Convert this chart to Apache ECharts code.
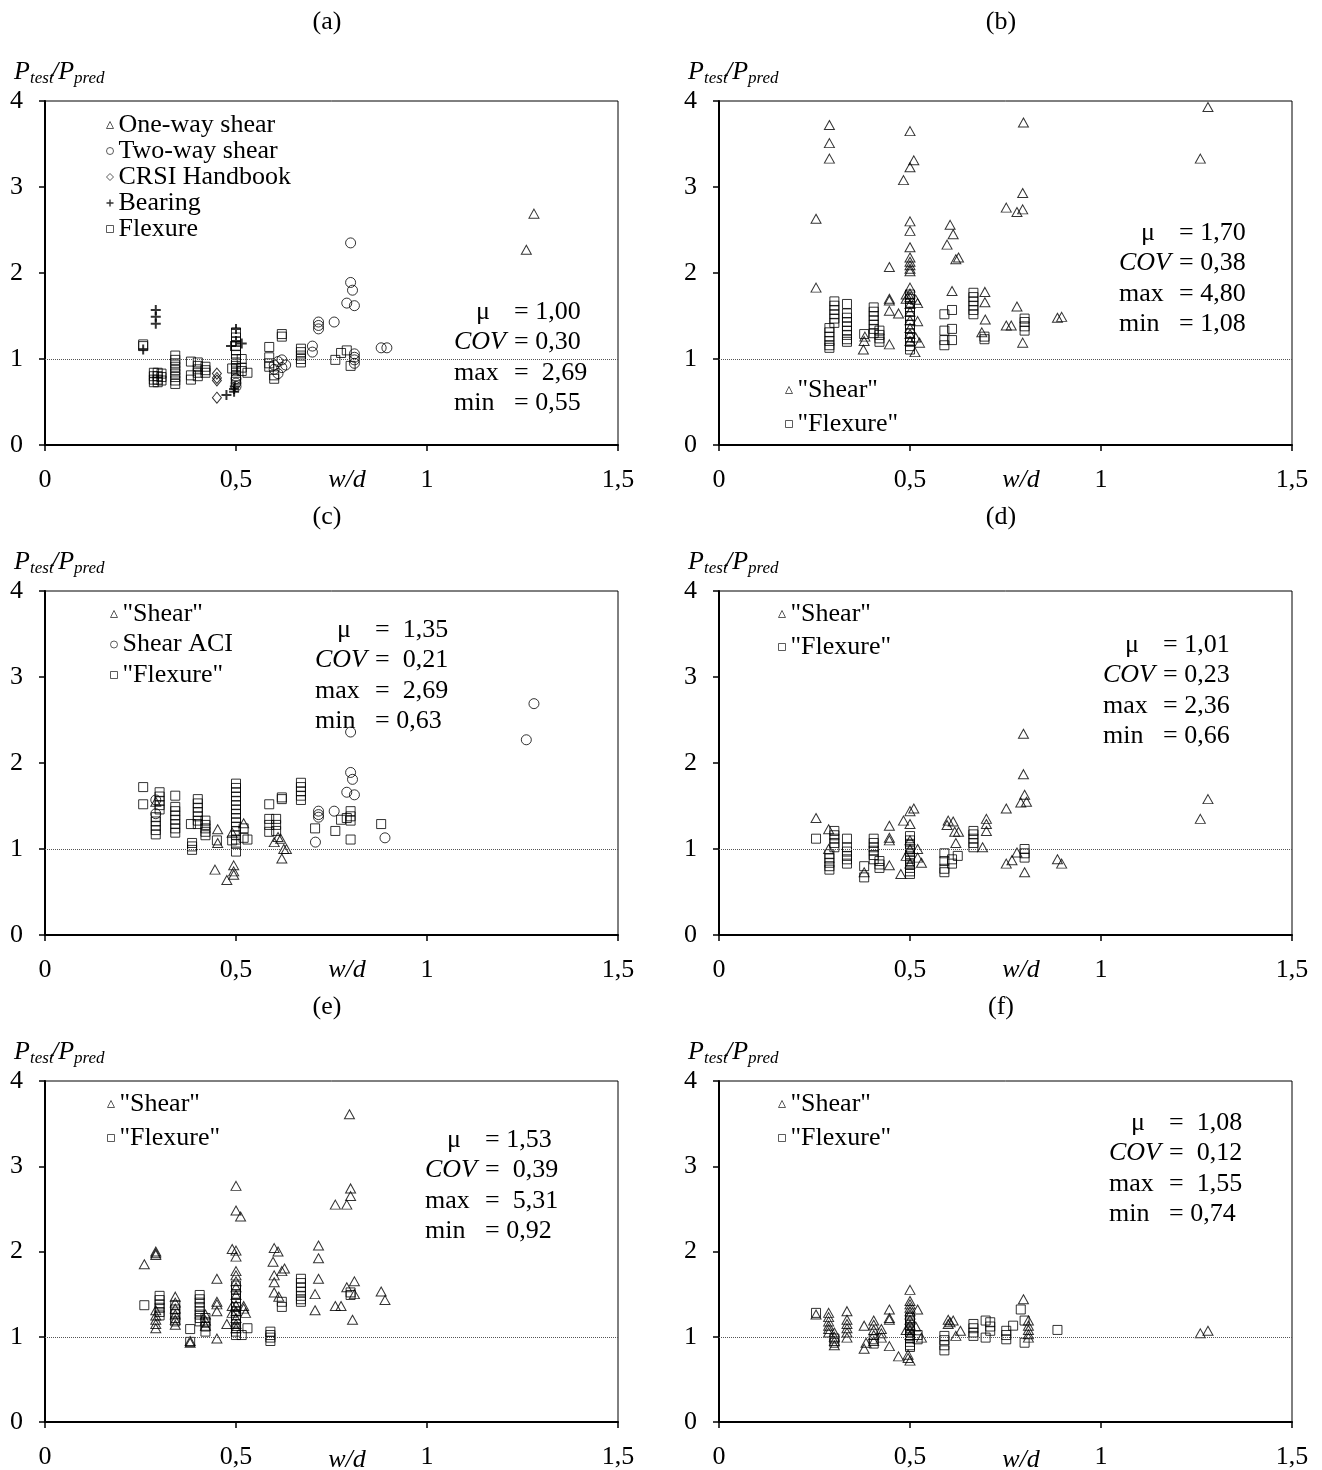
<!DOCTYPE html>
<html>
<head>
    <meta charset="utf-8">
    <title>Ptest/Ppred vs w/d</title>
    <script src="https://cdn.jsdelivr.net/npm/echarts@6/dist/echarts.min.js"></script>
    <style>
        html, body { margin: 0; padding: 0; background: #fff; }
        #chart { width: 1322px; height: 1470px; }
    </style>
</head>
<body>
    <div id="chart"></div>

    <script>
    // each row: [x, y1, y2, ...] -> points sharing the same w/d
    // (a)
    const aOneWay = [[1.26, 2.27], [1.28, 2.69]];
    const aTwoWay = [
        [0.5, 0.77, 0.72, 0.68], [0.60, 0.93, 0.88], [0.61, 0.97, 0.83], [0.62, 0.99, 0.90],
        [0.63, 0.93], [0.70, 1.15, 1.08], [0.716, 1.43, 1.39, 1.35], [0.757, 1.43],
        [0.80, 2.35, 1.89], [0.805, 1.80], [0.79, 1.65], [0.81, 1.62, 1.06, 1.02, 0.99, 0.95],
        [0.88, 1.13], [0.895, 1.13]
    ];
    const aCrsi = [[0.45, 0.83, 0.78, 0.75, 0.55]];
    const aBearing = [
        [0.257, 1.11], [0.29, 1.57, 1.49, 1.41], [0.475, 0.58], [0.487, 1.15],
        [0.495, 0.62, 0.65], [0.497, 0.68], [0.50, 1.35, 1.21], [0.515, 1.18]
    ];
    const aFlexure = [
        [0.257, 1.17, 1.15], [0.285, 0.84, 0.80, 0.76, 0.73], [0.295, 0.84, 0.80, 0.76, 0.73],
        [0.305, 0.83, 0.79, 0.75], [0.341, 1.04, 0.99, 0.95, 0.91, 0.87, 0.83, 0.79, 0.75, 0.71],
        [0.382, 0.97, 0.81, 0.76], [0.40, 0.96, 0.92, 0.88, 0.84, 0.80], [0.42, 0.91, 0.87, 0.84],
        [0.49, 0.89], [0.50, 1.31, 1.25, 1.20, 1.15, 1.10, 1.05, 1.00, 0.96, 0.92, 0.88, 0.84, 0.80, 0.76],
        [0.515, 1.00, 0.90, 0.86], [0.53, 0.84], [0.587, 1.14, 1.02, 0.95, 0.91], [0.60, 0.81, 0.77],
        [0.62, 1.29, 1.26], [0.67, 1.12, 1.08, 1.04, 1.00, 0.96], [0.76, 0.99], [0.775, 1.07],
        [0.79, 1.10], [0.80, 0.92]
    ];
    // (b)
    const bShear = [
        [0.254, 2.63, 1.83], [0.289, 3.72, 3.51, 3.33], [0.382, 1.26], [0.38, 1.21], [0.378, 1.11],
        [0.446, 2.07, 1.70, 1.68, 1.56, 1.17], [0.47, 1.53], [0.483, 3.08], [0.49, 1.75, 1.70],
        [0.50, 3.65, 3.23, 2.60, 2.49, 2.30, 2.18, 2.13, 2.09, 2.05, 2.02, 1.83, 1.76, 1.72, 1.64, 1.55, 1.45, 1.36, 1.29, 1.21],
        [0.51, 3.31], [0.515, 1.69, 1.25], [0.52, 1.65, 1.44], [0.525, 1.19], [0.513, 1.08],
        [0.605, 2.56], [0.613, 2.45], [0.597, 2.33], [0.62, 2.16], [0.627, 2.18], [0.61, 1.79],
        [0.696, 1.78, 1.66], [0.697, 1.46], [0.688, 1.31], [0.752, 2.76, 1.39], [0.765, 1.39],
        [0.78, 2.71, 1.61], [0.795, 2.74, 2.93, 1.19], [0.797, 3.75], [0.886, 1.48], [0.897, 1.49],
        [1.26, 3.33], [1.28, 3.93]
    ];
    const bFlexure = [
        [0.302, 1.67, 1.62, 1.57, 1.52, 1.47, 1.42], [0.289, 1.36, 1.31, 1.26, 1.21, 1.16, 1.13],
        [0.335, 1.64, 1.53, 1.48, 1.43, 1.38, 1.33, 1.28, 1.23, 1.20], [0.38, 1.29],
        [0.405, 1.60, 1.55, 1.50, 1.45, 1.40, 1.35, 1.30], [0.42, 1.33, 1.28, 1.24, 1.20],
        [0.50, 1.75, 1.70, 1.65, 1.60, 1.55, 1.50, 1.45, 1.40, 1.35, 1.30, 1.25, 1.20, 1.15, 1.11],
        [0.59, 1.52, 1.33, 1.22, 1.16], [0.61, 1.35, 1.22, 1.57],
        [0.666, 1.77, 1.72, 1.67, 1.62, 1.57, 1.52], [0.695, 1.26, 1.23], [0.80, 1.47, 1.43, 1.38, 1.33]
    ];
    // (c)
    const cShear = [
        [0.29, 1.55], [0.452, 1.23, 1.07], [0.445, 0.76], [0.476, 0.64], [0.49, 1.19],
        [0.494, 0.81, 0.74, 0.70], [0.52, 1.30], [0.60, 1.08], [0.61, 1.14], [0.617, 1.12],
        [0.625, 1.00], [0.632, 1.00], [0.62, 0.89]
    ];
    const cShearAci = [
        [0.29, 1.57, 1.41], [0.708, 1.08], [0.716, 1.44, 1.40, 1.37], [0.757, 1.44],
        [0.80, 2.36, 1.89], [0.805, 1.81], [0.79, 1.66], [0.81, 1.63], [0.89, 1.13],
        [1.26, 2.27], [1.28, 2.69]
    ];
    const cFlexure = [
        [0.257, 1.72, 1.52], [0.29, 1.37, 1.32, 1.27, 1.22, 1.17], [0.30, 1.66, 1.61, 1.56, 1.51, 1.46],
        [0.341, 1.62, 1.49, 1.44, 1.39, 1.34, 1.29, 1.24, 1.19], [0.382, 1.29], [0.385, 1.07, 1.03, 0.99],
        [0.40, 1.58, 1.53, 1.48, 1.43, 1.38, 1.33, 1.29], [0.42, 1.33, 1.28, 1.24, 1.20, 1.16], [0.45, 1.10],
        [0.50, 1.76, 1.71, 1.66, 1.61, 1.56, 1.51, 1.46, 1.41, 1.36, 1.31, 1.26, 1.21, 1.16, 1.11, 1.06, 0.97],
        [0.49, 1.10], [0.52, 1.24, 1.13], [0.53, 1.11], [0.587, 1.52, 1.35, 1.28, 1.20],
        [0.605, 1.35, 1.28, 1.21], [0.62, 1.58, 1.60], [0.67, 1.77, 1.72, 1.67, 1.62, 1.57],
        [0.707, 1.24], [0.76, 1.21], [0.775, 1.34], [0.79, 1.36], [0.80, 1.44, 1.38, 1.33, 1.11], [0.88, 1.29]
    ];
    // (d)
    const dShear = [
        [0.254, 1.36], [0.287, 1.23, 1.00], [0.38, 0.73], [0.446, 1.27, 1.13, 1.10, 0.81], [0.476, 0.71],
        [0.483, 1.33], [0.50, 1.44, 1.29, 1.10, 1.00, 0.83], [0.51, 1.47], [0.49, 0.92], [0.52, 1.00, 0.90],
        [0.53, 0.84], [0.60, 1.33], [0.613, 1.32], [0.597, 1.28], [0.617, 1.20], [0.627, 1.20], [0.62, 1.07],
        [0.70, 1.35, 1.29, 1.21], [0.69, 1.02], [0.752, 1.47, 0.83], [0.767, 0.87], [0.78, 0.96],
        [0.797, 2.34, 1.87], [0.80, 1.63, 0.73], [0.79, 1.54], [0.805, 1.55], [0.886, 0.88], [0.897, 0.83],
        [1.26, 1.35], [1.28, 1.58]
    ];
    const dFlexure = [
        [0.254, 1.12], [0.302, 1.21, 1.16, 1.12, 1.07, 1.02], [0.289, 0.94, 0.89, 0.84, 0.80, 0.76],
        [0.335, 1.12, 1.02, 0.97, 0.92, 0.88, 0.83], [0.38, 0.80, 0.67], [0.405, 1.12, 1.07, 1.02, 0.98, 0.93, 0.88],
        [0.42, 0.86, 0.82, 0.78], [0.50, 1.15, 1.10, 1.06, 1.02, 0.98, 0.94, 0.90, 0.86, 0.82, 0.78, 0.74, 0.71],
        [0.59, 0.95, 0.86, 0.77, 0.73], [0.61, 0.88, 0.83], [0.625, 0.92],
        [0.666, 1.21, 1.17, 1.12, 1.07, 1.02], [0.80, 1.00, 0.95, 0.90]
    ];
    // (e)
    const eShear = [
        [0.26, 1.85], [0.29, 2.00, 1.98, 1.96, 1.31, 1.25, 1.20, 1.15, 1.10],
        [0.341, 1.47, 1.40, 1.33, 1.26, 1.20, 1.14], [0.38, 0.95, 0.93], [0.42, 1.26, 1.19, 1.13],
        [0.45, 1.68, 1.41, 1.38, 1.30, 0.98], [0.476, 1.15], [0.49, 2.03, 1.36, 1.28],
        [0.50, 2.77, 2.48, 2.01, 1.94, 1.77, 1.72, 1.65, 1.58, 1.49, 1.37, 1.30, 1.22, 1.15, 1.10],
        [0.512, 2.41], [0.52, 1.36, 1.33], [0.525, 1.28], [0.60, 2.04, 1.72, 1.64, 1.52], [0.61, 2.00],
        [0.597, 1.88], [0.62, 1.77], [0.627, 1.80], [0.612, 1.47], [0.716, 2.07, 1.92, 1.68],
        [0.707, 1.50, 1.31], [0.76, 1.36, 2.55], [0.775, 1.36], [0.79, 2.55, 1.58], [0.80, 2.65, 2.74],
        [0.797, 3.61], [0.81, 1.65, 1.50], [0.805, 1.20], [0.88, 1.53], [0.89, 1.43]
    ];
    const eFlexure = [
        [0.26, 1.37], [0.30, 1.48, 1.43, 1.38, 1.34, 1.29, 1.25], [0.341, 1.37, 1.32, 1.27, 1.22, 1.18],
        [0.38, 1.09, 0.94], [0.405, 1.49, 1.44, 1.40, 1.35, 1.30, 1.26, 1.22, 1.18], [0.42, 1.22, 1.17, 1.12, 1.06],
        [0.50, 1.60, 1.55, 1.50, 1.45, 1.40, 1.35, 1.30, 1.25, 1.20, 1.15, 1.10, 1.06, 1.02],
        [0.515, 1.02], [0.53, 1.10], [0.59, 1.06, 1.02, 0.99, 0.95], [0.62, 1.41, 1.35],
        [0.67, 1.68, 1.63, 1.58, 1.53, 1.48, 1.44, 1.41], [0.80, 1.49, 1.52]
    ];
    // (f)
    const fShear = [
        [0.254, 1.26], [0.287, 1.28, 1.23, 1.18, 1.13, 1.09, 1.05], [0.302, 1.05, 1.00, 0.95, 0.90],
        [0.335, 1.30, 1.20, 1.15, 1.10, 1.05, 0.99], [0.38, 1.13, 0.86], [0.385, 0.93],
        [0.405, 1.19, 1.14, 1.08, 1.02, 0.95], [0.425, 1.09, 1.04, 0.99], [0.446, 1.32, 1.22, 1.20, 0.89],
        [0.47, 0.77], [0.495, 0.79, 0.75], [0.50, 1.55, 1.42, 1.38, 1.34, 1.30, 1.26, 1.20, 1.14, 1.08, 1.02, 0.72],
        [0.49, 1.08], [0.52, 1.32], [0.515, 1.12], [0.53, 0.99], [0.60, 1.20, 1.15], [0.613, 1.19],
        [0.605, 1.17], [0.62, 1.01], [0.632, 1.07], [0.797, 1.44], [0.81, 1.19, 1.13, 1.08, 1.03, 0.99],
        [1.26, 1.04], [1.28, 1.07]
    ];
    const fFlexure = [
        [0.254, 1.28], [0.302, 0.98, 0.93], [0.405, 0.97, 0.92],
        [0.50, 1.22, 1.18, 1.14, 1.10, 1.06, 1.02, 0.98, 0.94, 0.90, 0.88], [0.52, 1.02, 0.97],
        [0.59, 1.01, 0.96, 0.90, 0.84], [0.666, 1.15, 1.10, 1.05, 1.01], [0.698, 1.19, 0.99],
        [0.71, 1.17, 1.12, 1.07], [0.752, 1.07, 1.02, 0.97], [0.77, 1.13], [0.79, 1.32],
        [0.80, 1.19, 0.93], [0.886, 1.08]
    ];

    const panelTitles = ['(a)', '(b)', '(c)', '(d)', '(e)', '(f)'];
    const statLabels = ['μ', 'COV', 'max', 'min'];
    const statValues = [
        ['= 1,00', '= 0,30', '=  2,69', '= 0,55'],
        ['= 1,70', '= 0,38', '= 4,80', '= 1,08'],
        ['=  1,35', '=  0,21', '=  2,69', '= 0,63'],
        ['= 1,01', '= 0,23', '= 2,36', '= 0,66'],
        ['= 1,53', '=  0,39', '=  5,31', '= 0,92'],
        ['=  1,08', '=  0,12', '=  1,55', '= 0,74']
    ];

    const FONT = '"Liberation Serif", "Times New Roman", serif';
    const PLUS = 'path://M4,0H6V4H10V6H6V10H4V6H0V4H4Z';

    function pts(rows) {
        const out = [];
        rows.forEach(function (r) {
            for (let k = 1; k < r.length; k++) out.push([r[0], r[k]]);
        });
        return out;
    }

    // plot areas
    const W = 573, H = 344;
    const panels = [
        { left: 45, top: 101, titleY: 22 },
        { left: 719, top: 101, titleY: 22 },
        { left: 45, top: 591, titleY: 517 },
        { left: 719, top: 591, titleY: 517 },
        { left: 45, top: 1081, titleY: 1007 },
        { left: 719, top: 1081, titleY: 1007 }
    ];
    // legend placement and stats block ("=" column x, first row y)
    const legendPos = [
        { left: 106, top: 112, gap: 0 },
        { left: 785, top: 377, gap: 8 },
        { left: 110, top: 601, gap: 4.5 },
        { left: 778, top: 601, gap: 7 },
        { left: 107, top: 1091, gap: 8 },
        { left: 778, top: 1091, gap: 8 }
    ];
    const statPos = [
        { eq: 514, y: 312 }, { eq: 1179, y: 233 }, { eq: 375, y: 630 },
        { eq: 1163, y: 645 }, { eq: 485, y: 1140 }, { eq: 1169, y: 1123 }
    ];

    const sym = {
        tri: { symbol: 'triangle', size: [10, 9] },
        circ: { symbol: 'circle', size: 10 },
        dia: { symbol: 'diamond', size: [9, 11] },
        plus: { symbol: PLUS, size: 10 },
        sq: { symbol: 'rect', size: 9 }
    };
    const panelSeries = [
        [['One-way shear', aOneWay, 'tri'], ['Two-way shear', aTwoWay, 'circ'], ['CRSI Handbook', aCrsi, 'dia'],
         ['Bearing', aBearing, 'plus'], ['Flexure', aFlexure, 'sq']],
        [['"Shear"', bShear, 'tri'], ['"Flexure"', bFlexure, 'sq']],
        [['"Shear"', cShear, 'tri'], ['Shear ACI', cShearAci, 'circ'], ['"Flexure"', cFlexure, 'sq']],
        [['"Shear"', dShear, 'tri'], ['"Flexure"', dFlexure, 'sq']],
        [['"Shear"', eShear, 'tri'], ['"Flexure"', eFlexure, 'sq']],
        [['"Shear"', fShear, 'tri'], ['"Flexure"', fFlexure, 'sq']]
    ];

    const grids = [], xAxes = [], yAxes = [], series = [], legends = [], graphics = [];

    panels.forEach(function (p, i) {
        grids.push({ left: p.left, top: p.top, width: W, height: H, show: true,
            borderColor: '#000', borderWidth: 1, backgroundColor: 'transparent' });
        xAxes.push({
            gridIndex: i, type: 'value', min: 0, max: 1.5, interval: 0.5,
            axisLine: { onZero: false, lineStyle: { color: '#000', width: 2 } },
            axisTick: { length: 6, lineStyle: { color: '#000', width: 1.5 } },
            axisLabel: { margin: 22, color: '#000', fontFamily: FONT, fontSize: 26,
                formatter: function (v) { return String(v).replace('.', ','); } },
            splitLine: { show: false }
        });
        yAxes.push({
            gridIndex: i, type: 'value', min: 0, max: 4, interval: 1,
            axisLine: { onZero: false, lineStyle: { color: '#000', width: 2 } },
            axisTick: { length: 6, lineStyle: { color: '#000', width: 1.5 } },
            axisLabel: { margin: 22, color: '#000', fontFamily: FONT, fontSize: 26 },
            splitLine: { show: false }
        });

        const names = [];
        panelSeries[i].forEach(function (s, k) {
            const st = sym[s[2]];
            const filled = s[2] === 'plus';
            const item = {
                type: 'scatter', name: s[0], xAxisIndex: i, yAxisIndex: i,
                data: pts(s[1]), symbol: st.symbol, symbolSize: st.size,
                itemStyle: filled ? { color: '#000', borderWidth: 0 }
                    : { color: 'rgba(0,0,0,0)', borderColor: '#000', borderWidth: 1 },
                emphasis: { disabled: true }, z: filled ? 3 : 2
            };
            if (k === 0) {
                item.markLine = {
                    silent: true, symbol: 'none', label: { show: false },
                    lineStyle: { color: '#555', type: 'dotted', width: 1 },
                    data: [{ yAxis: 1 }]
                };
            }
            series.push(item);
            names.push(filled ? { name: s[0], itemStyle: { color: '#000', borderWidth: 0 } }
                : { name: s[0], itemStyle: { color: 'rgba(0,0,0,0)', borderColor: '#333', borderWidth: 1 } });
        });

        const lp = legendPos[i];
        legends.push({
            data: names, orient: 'vertical', left: lp.left, top: lp.top, itemGap: lp.gap,
            itemWidth: 7, itemHeight: 7, padding: 0, selectedMode: false,
            textStyle: { fontFamily: FONT, fontSize: 26, color: '#000' }
        });

        // panel title
        graphics.push({ type: 'text', x: p.left + 282, y: p.titleY,
            style: { text: panelTitles[i], font: '26px ' + FONT, fill: '#000', align: 'center', verticalAlign: 'middle' } });
        // y axis name P_test / P_pred
        const nx = p.left - 31, ny = p.top - 29;
        const parts = [['P', 0, 26, 0], ['test', 16, 17, 7], ['/P', 37, 26, 0], ['pred', 60, 17, 7]];
        parts.forEach(function (t) {
            graphics.push({ type: 'text', x: nx + t[1], y: ny + t[3],
                style: { text: t[0], font: 'italic ' + t[2] + 'px ' + FONT, fill: '#000', align: 'left', verticalAlign: 'middle' } });
        });
        // x axis name
        graphics.push({ type: 'text', x: p.left + 302, y: p.top + 379,
            style: { text: 'w/d', font: 'italic 26px ' + FONT, fill: '#000', align: 'center', verticalAlign: 'middle' } });
        // statistics block
        const sp = statPos[i];
        statLabels.forEach(function (lab, r) {
            const y = sp.y + r * 30.5;
            graphics.push({ type: 'text', x: sp.eq - 60 + (r === 0 ? 22 : 0), y: y,
                style: { text: lab, font: (r === 1 ? 'italic ' : '') + '26px ' + FONT, fill: '#000', align: 'left', verticalAlign: 'middle' } });
            graphics.push({ type: 'text', x: sp.eq, y: y,
                style: { text: statValues[i][r], font: '26px ' + FONT, fill: '#000', align: 'left', verticalAlign: 'middle' } });
        });
    });

    const option = {
        animation: false,
        backgroundColor: '#fff',
        grid: grids,
        xAxis: xAxes,
        yAxis: yAxes,
        legend: legends,
        series: series,
        graphic: graphics
    };

    const chart = echarts.init(document.getElementById('chart'));
    chart.setOption(option);
    window.addEventListener('resize', function () { chart.resize(); });
    </script>
</body>
</html>
